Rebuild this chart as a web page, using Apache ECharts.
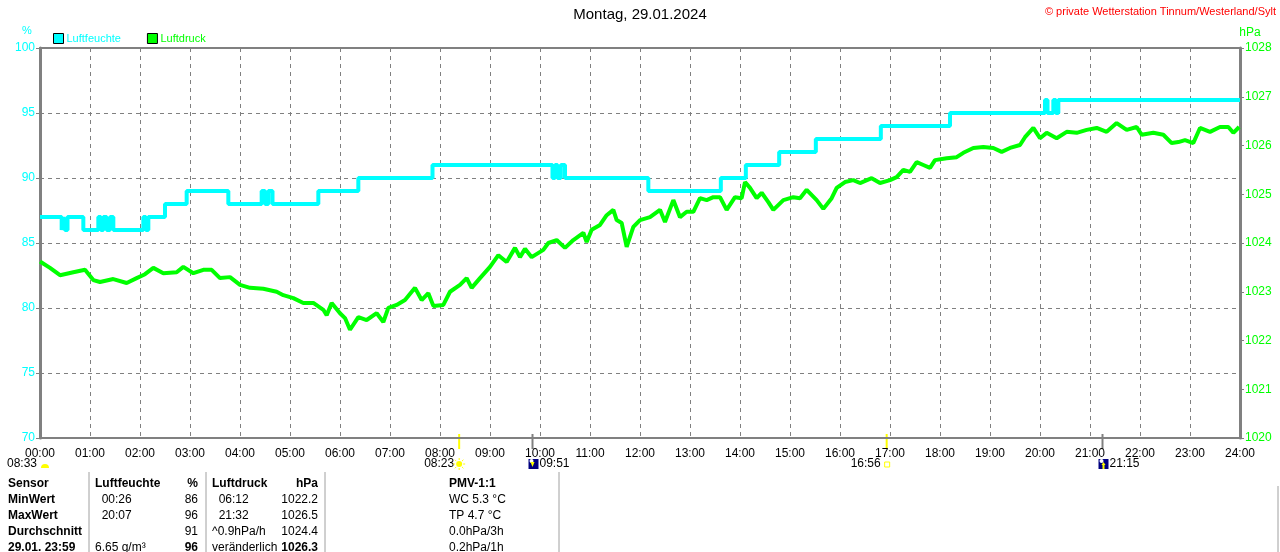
<!DOCTYPE html>
<html><head><meta charset="utf-8">
<script src="https://cdn.jsdelivr.net/npm/echarts/dist/echarts.min.js"></script>
<style>html,body{margin:0;padding:0;background:#fff}#c{width:1280px;height:552px}</style>
</head><body><div id="c"></div>
<script>
// ---- data (minutes since midnight, value) ----
const humidity = [[0,87],[26,86],[28,87],[30,86],[33,87],[52,86],[70,87],[73,86],[76,87],[80,86],[84,87],[88,86],[124,87],[127,86],[130,87],[150,88],[176,89],[226,88],[266,89],[270,88],[274,89],[279,88],[334,89],[382,90],[471,91],[615,90],[618,91],[621,90],[625,91],[630,90],[730,89],[817,90],[847,91],[887,92],[931,93],[1009,94],[1092,95],[1206,96],[1209,95],[1216,96],[1219,95],[1222,96],[1440,96]];
const pressure = [[0,1023.62],[2,1023.59],[12,1023.49],[24,1023.34],[40,1023.40],[54,1023.45],[64,1023.24],[72,1023.20],[88,1023.26],[104,1023.18],[116,1023.28],[126,1023.36],[136,1023.49],[148,1023.38],[164,1023.40],[172,1023.51],[184,1023.38],[196,1023.45],[206,1023.45],[216,1023.28],[228,1023.30],[240,1023.14],[252,1023.08],[268,1023.06],[284,1023.00],[292,1022.93],[304,1022.87],[316,1022.77],[328,1022.77],[340,1022.63],[344,1022.52],[350,1022.77],[360,1022.56],[366,1022.46],[372,1022.22],[382,1022.48],[392,1022.42],[404,1022.56],[412,1022.38],[418,1022.67],[428,1022.73],[438,1022.83],[450,1023.08],[458,1022.83],[466,1022.97],[472,1022.71],[484,1022.73],[492,1023.00],[504,1023.14],[512,1023.28],[518,1023.08],[528,1023.28],[540,1023.51],[550,1023.75],[560,1023.61],[570,1023.90],[576,1023.71],[582,1023.88],[590,1023.71],[604,1023.86],[610,1024.00],[620,1024.06],[630,1023.90],[640,1024.06],[652,1024.21],[656,1024.02],[662,1024.27],[672,1024.37],[680,1024.57],[688,1024.68],[692,1024.47],[698,1024.41],[704,1023.92],[712,1024.33],[720,1024.47],[732,1024.53],[744,1024.68],[750,1024.43],[760,1024.88],[768,1024.53],[776,1024.64],[784,1024.64],[792,1024.92],[800,1024.88],[808,1024.94],[816,1024.94],[824,1024.68],[834,1024.94],[842,1024.92],[846,1025.25],[852,1025.13],[860,1024.92],[866,1025.03],[874,1024.84],[880,1024.68],[892,1024.88],[904,1024.94],[912,1024.92],[920,1025.09],[932,1024.88],[940,1024.70],[950,1024.92],[956,1025.13],[966,1025.25],[976,1025.29],[984,1025.23],[998,1025.33],[1008,1025.23],[1020,1025.29],[1028,1025.35],[1036,1025.50],[1044,1025.46],[1052,1025.66],[1060,1025.60],[1068,1025.54],[1074,1025.70],[1088,1025.74],[1100,1025.76],[1108,1025.85],[1120,1025.95],[1132,1025.97],[1144,1025.95],[1154,1025.87],[1164,1025.95],[1176,1026.01],[1182,1026.17],[1192,1026.36],[1200,1026.15],[1208,1026.26],[1220,1026.15],[1232,1026.28],[1244,1026.26],[1256,1026.32],[1268,1026.36],[1280,1026.28],[1292,1026.46],[1304,1026.32],[1316,1026.38],[1322,1026.22],[1336,1026.26],[1348,1026.22],[1358,1026.05],[1366,1026.07],[1374,1026.11],[1384,1026.05],[1392,1026.36],[1404,1026.28],[1416,1026.38],[1426,1026.38],[1432,1026.26],[1439,1026.38]];
const seriesNames = ['Luftfeuchte','Luftdruck'];
const titleText = 'Montag, 29.01.2024';
const copyrightText = '\u00a9 private Wetterstation Tinnum/Westerland/Sylt';
const dayLength = '08:33';
const sunEvents = [{t:503,label:'08:23',kind:'rise'},{t:1016,label:'16:56',kind:'set'}];
const moonEvents = [{t:591,label:'09:51',kind:'set'},{t:1275,label:'21:15',kind:'rise'}];
// table: [text, bold] per column
const tableRows = [
  [['Sensor',1],['Luftfeuchte',1],['%',1],['Luftdruck',1],['hPa',1],['PMV-1:1',1]],
  [['MinWert',1],['  00:26',0],['86',0],['  06:12',0],['1022.2',0],['WC 5.3 \u00b0C',0]],
  [['MaxWert',1],['  20:07',0],['96',0],['  21:32',0],['1026.5',0],['TP 4.7 \u00b0C',0]],
  [['Durchschnitt',1],['',0],['91',0],['^0.9hPa/h',0],['1024.4',0],['0.0hPa/3h',0]],
  [['29.01. 23:59',1],['6.65 g/m\u00b3',0],['96',1],['ver\u00e4nderlich',0],['1026.3',1],['0.2hPa/1h',0]]
];

const CYAN='#00ffff', GREEN='#00ff00', GRAY='#808080';
const FONT='"Liberation Sans", Arial, sans-serif';
const chart = echarts.init(document.getElementById('c'));
const pad = n => (n<10?'0':'')+n;

chart.setOption({
  animation:false,
  backgroundColor:'#fff',
  textStyle:{fontFamily:FONT},
  grid:{left:40,right:40,top:48,bottom:114,containLabel:false},
  legend:{
    left:48, top:28, itemWidth:10, itemHeight:10, itemGap:26, icon:'rect',
    textStyle:{fontSize:11,fontFamily:FONT,padding:[0,0,0,-2]},
    data:[{name:seriesNames[0],textStyle:{color:CYAN},itemStyle:{color:CYAN,borderColor:'#000',borderWidth:1}},
          {name:seriesNames[1],textStyle:{color:GREEN},itemStyle:{color:GREEN,borderColor:'#000',borderWidth:1}}]
  },
  xAxis:[{
    type:'value', min:0, max:1440, interval:60,
    axisLine:{show:true,onZero:false,lineStyle:{color:GRAY,width:2}},
    axisTick:{show:false},
    axisLabel:{color:'#000',fontSize:12,margin:10,fontFamily:FONT,formatter:v=>pad(Math.round(v/60))+':00'},
    splitLine:{show:true,lineStyle:{color:GRAY,type:[4,4],width:1}}
  },{
    type:'value', min:0, max:1440, position:'top',
    axisLine:{show:true,onZero:false,lineStyle:{color:GRAY,width:2}},
    axisTick:{show:false},axisLabel:{show:false},splitLine:{show:false}
  }],
  yAxis:[{
    type:'value', min:70, max:100, interval:5, position:'left',
    axisLine:{show:true,onZero:false,lineStyle:{color:GRAY,width:3}},
    axisTick:{show:true,inside:false,length:4,lineStyle:{color:GRAY,width:1}},
    axisLabel:{color:CYAN,fontSize:12,margin:5,fontFamily:FONT,formatter:v=>String(v)},
    splitLine:{show:true,lineStyle:{color:GRAY,type:[4,4],width:1}}
  },{
    type:'value', min:1020, max:1028, interval:1, position:'right',
    axisLine:{show:true,onZero:false,lineStyle:{color:GRAY,width:3}},
    axisTick:{show:true,inside:false,length:4,lineStyle:{color:GRAY,width:1}},
    axisLabel:{color:GREEN,fontSize:12,margin:5,fontFamily:FONT,formatter:v=>String(v)},
    splitLine:{show:false}
  }],
  series:[
    {name:seriesNames[0],type:'line',step:'end',data:humidity,yAxisIndex:0,showSymbol:false,symbol:'none',
     lineStyle:{color:CYAN,width:4},itemStyle:{color:CYAN},z:3},
    {name:seriesNames[1],type:'line',data:pressure,yAxisIndex:1,showSymbol:false,symbol:'none',
     lineStyle:{color:GREEN,width:4},itemStyle:{color:GREEN},z:4}
  ]
});

// ---- decorations ----
const g = [];
const txt = (x,y,text,opt)=>g.push(Object.assign({type:'text',x:x,y:y,silent:true,
  style:Object.assign({text:text,font:'12px '+FONT,fill:'#000',verticalAlign:'middle'},opt||{})}));
txt(640,15,titleText,{font:'15px '+FONT,align:'center'});
txt(1276,12,copyrightText,{font:'11px '+FONT,fill:'#ff0000',align:'right'});
txt(27,31,'%',{font:'11px '+FONT,fill:CYAN,align:'center'});
txt(1250,33,'hPa',{font:'12px '+FONT,fill:GREEN,align:'center'});

const yTick0 = 434, yTick1 = 449, yRow = 464;
// day length at left
txt(37,yRow,dayLength,{align:'right'});
g.push({type:'sector',shape:{cx:45,cy:yRow+4,r:4,startAngle:Math.PI,endAngle:2*Math.PI},style:{fill:'#ffff00'},silent:true});
sunEvents.forEach(e=>{
  const px = chart.convertToPixel({xAxisIndex:0}, e.t);
  g.push({type:'line',shape:{x1:px,y1:yTick0,x2:px,y2:yTick1},style:{stroke:'#ffff00',lineWidth:2},silent:true});
  if(e.kind==='rise'){
    txt(px-5,yRow,e.label,{align:'right'});
    g.push({type:'circle',shape:{cx:px,cy:yRow,r:3},style:{fill:'#ffff00'},silent:true});
    for(let i=0;i<8;i++){const a=i*Math.PI/4;
      g.push({type:'line',shape:{x1:px+Math.cos(a)*4,y1:yRow+Math.sin(a)*4,x2:px+Math.cos(a)*6,y2:yRow+Math.sin(a)*6},style:{stroke:'#ffff00',lineWidth:1},silent:true});}
  } else {
    txt(px-6,yRow,e.label,{align:'right'});
    g.push({type:'rect',shape:{x:px-2,y:yRow-2,width:5,height:5},style:{fill:'none',stroke:'#ffff00',lineWidth:1},silent:true});
  }
});
moonEvents.forEach(e=>{
  const px = chart.convertToPixel({xAxisIndex:0}, e.t);
  g.push({type:'line',shape:{x1:px,y1:yTick0,x2:px,y2:yTick1},style:{stroke:GRAY,lineWidth:2},silent:true});
  g.push({type:'rect',shape:{x:px-4,y:yRow-5,width:10,height:10},style:{fill:'#000080'},silent:true});
  g.push({type:'circle',shape:{cx:px-1,cy:yRow-3,r:2},style:{fill:'#ffffff'},silent:true});
  if(e.kind==='set'){
    g.push({type:'polygon',shape:{points:[[px-2,yRow-2],[px+2,yRow-2],[px,yRow+3]]},style:{fill:'#ffff00'},silent:true});
  } else {
    g.push({type:'polygon',shape:{points:[[px+1,yRow-2],[px-1,yRow+1],[px+3,yRow+1]]},style:{fill:'#ffff00'},silent:true});
    g.push({type:'line',shape:{x1:px+1,y1:yRow,x2:px+1,y2:yRow+5},style:{stroke:'#ffff00',lineWidth:2},silent:true});
  }
  txt(px+7,yRow,e.label,{align:'left'});
});

// table
[89,206,325,559].forEach(x=>g.push({type:'line',shape:{x1:x,y1:472,x2:x,y2:552},style:{stroke:'#a0a0a0',lineWidth:1},silent:true}));
g.push({type:'line',shape:{x1:1278,y1:486,x2:1278,y2:552},style:{stroke:'#a0a0a0',lineWidth:1},silent:true});
const colX = [[8,'left'],[95,'left'],[198,'right'],[212,'left'],[318,'right'],[449,'left']];
tableRows.forEach((row,ri)=>{
  const y = 484 + ri*16;
  row.forEach((cell,ci)=>{
    if(!cell[0]) return;
    txt(colX[ci][0],y,cell[0],{align:colX[ci][1],font:(cell[1]?'bold ':'')+'12px '+FONT});
  });
});
chart.setOption({graphic:g});
</script>
</body></html>
